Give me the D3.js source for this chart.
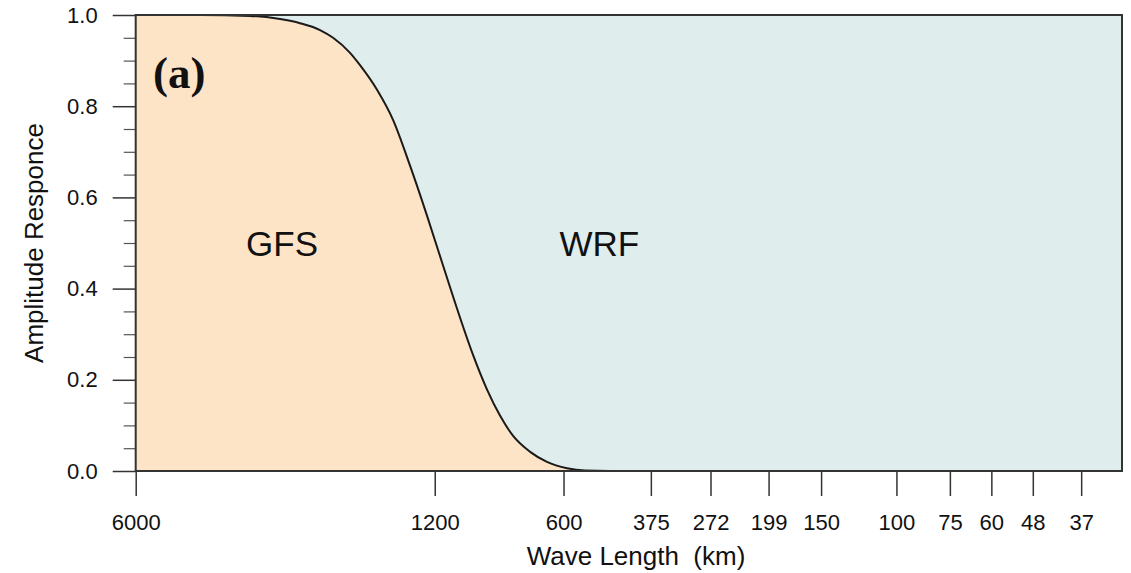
<!DOCTYPE html>
<html>
<head>
<meta charset="utf-8">
<script src="https://cdn.jsdelivr.net/npm/d3@7"></script>
<style>
  html, body { margin: 0; padding: 0; background: #fff; }
  svg { display: block; }
</style>
</head>
<body>
<svg id="chart" width="1131" height="573"></svg>
<script>
// ---- data ----
const waveLengths = [6000, 4245, 3243, 2759, 2478, 2225, 2074, 1893, 1794, 1637, 1502, 1370, 1250, 1147, 1047, 976, 905, 844, 787, 718, 656, 589, 534, 467, 29.7];
const response    = [1.0, 1.0, 0.998, 0.991, 0.982, 0.967, 0.950, 0.917, 0.890, 0.836, 0.770, 0.669, 0.559, 0.450, 0.336, 0.254, 0.178, 0.121, 0.077, 0.042, 0.020, 0.006, 0.001, 0, 0];
const xTickLabels = [6000, 1200, 600, 375, 272, 199, 150, 100, 75, 60, 48, 37];
const yMajorTicks = [0, 0.2, 0.4, 0.6, 0.8, 1.0];
const yMinorTicks = [0.05, 0.1, 0.15, 0.25, 0.3, 0.35, 0.45, 0.5, 0.55, 0.65, 0.7, 0.75, 0.85, 0.9, 0.95];
const regionLabels = ["GFS", "WRF"];
const regionLabelWaves = [2730, 495];
const regionLabelValue = 0.5;

// ---- layout ----
const pL = 135.7, pR = 1122, pT = 15, pB = 471;
const SANS = '"Liberation Sans", Arial, Helvetica, sans-serif';
const svg = d3.select("#chart");

const x = d3.scaleLog().domain([6000, 29.7]).range([pL, pR]);
const y = d3.scaleLinear().domain([0, 1]).range([pB, pT]);

const pts = waveLengths.map((w, i) => ({ w, v: response[i] }));

// background (WRF region)
svg.append("rect")
  .attr("x", pL).attr("y", pT)
  .attr("width", pR - pL).attr("height", pB - pT)
  .attr("fill", "#dfeded");

// GFS region (under curve)
const area = d3.area()
  .x(d => x(d.w)).y0(y(0)).y1(d => y(d.v))
  .curve(d3.curveMonotoneX);
svg.append("path").datum(pts).attr("d", area).attr("fill", "#fde4c6");

// curve
const line = d3.line().x(d => x(d.w)).y(d => y(d.v)).curve(d3.curveMonotoneX);
svg.append("path").datum(pts).attr("d", line)
  .attr("fill", "none").attr("stroke", "#1a1a1a").attr("stroke-width", 2);

// y axis major
const yAxis = svg.append("g").attr("transform", `translate(${pL},0)`)
  .call(d3.axisLeft(y).tickValues(yMajorTicks).tickFormat(d3.format(".1f")).tickSize(23).tickPadding(15));
yAxis.select(".domain").remove();
yAxis.selectAll("line").attr("stroke", "#333").attr("stroke-width", 1.5);
yAxis.selectAll("text").style("font-size", "22px").style("fill", "#111").style("font-family", SANS);

// y axis minor
const yMinor = svg.append("g").attr("transform", `translate(${pL},0)`)
  .call(d3.axisLeft(y).tickValues(yMinorTicks).tickFormat("").tickSize(12));
yMinor.select(".domain").remove();
yMinor.selectAll("line").attr("stroke", "#555").attr("stroke-width", 1.2);

// x axis
const xAxis = svg.append("g").attr("transform", `translate(0,${pB})`)
  .call(d3.axisBottom(x).tickValues(xTickLabels).tickFormat(d => d).tickSize(25).tickPadding(18));
xAxis.select(".domain").remove();
xAxis.selectAll("line").attr("stroke", "#333").attr("stroke-width", 1.5);
xAxis.selectAll("text").style("font-size", "22px").style("fill", "#111").style("font-family", SANS);

// frame
svg.append("rect")
  .attr("x", pL).attr("y", pT)
  .attr("width", pR - pL).attr("height", pB - pT)
  .attr("fill", "none").attr("stroke", "#333").attr("stroke-width", 2);

// axis titles
svg.append("text")
  .attr("x", 636).attr("y", 565)
  .attr("text-anchor", "middle")
  .style("font-size", "26px").style("font-family", SANS).style("fill", "#111")
  .text("Wave Length\u00a0\u00a0(km)");
svg.append("text")
  .attr("transform", "translate(43,243) rotate(-90)")
  .attr("text-anchor", "middle")
  .style("font-size", "26px").style("font-family", SANS).style("fill", "#111")
  .text("Amplitude Responce");

// region labels
regionLabels.forEach((t, i) => {
  svg.append("text")
    .attr("x", x(regionLabelWaves[i])).attr("y", y(regionLabelValue) + 13)
    .attr("text-anchor", "middle")
    .style("font-size", "35px").style("font-family", SANS).style("fill", "#111")
    .text(t);
});

// panel label
svg.append("text")
  .attr("x", 153).attr("y", 88)
  .style("font-family", '"Liberation Serif", "Times New Roman", serif')
  .style("font-weight", "bold").style("font-size", "45px").style("fill", "#111")
  .text("(a)");
</script>
</body>
</html>
